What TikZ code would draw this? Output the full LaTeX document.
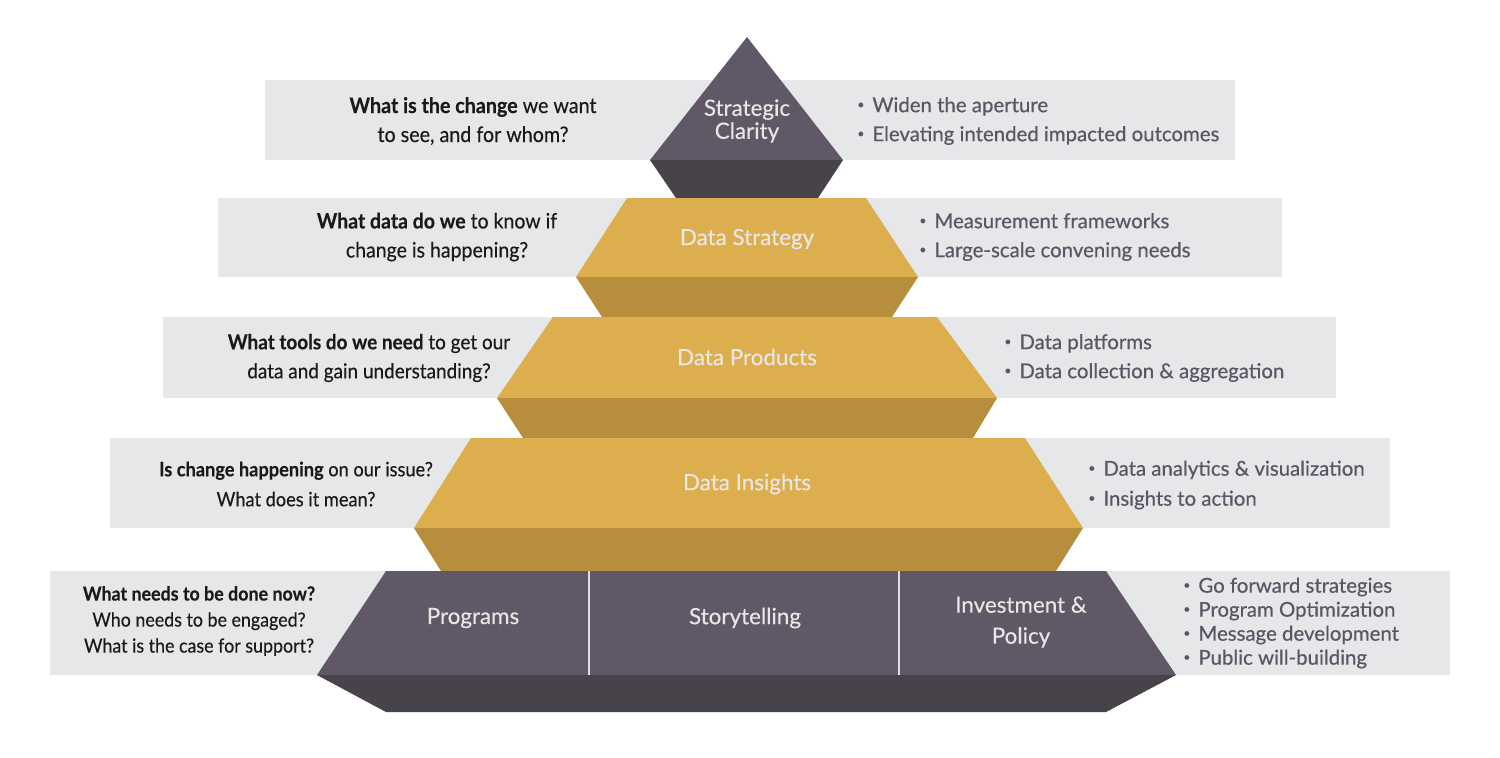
\documentclass[tikz,border=0pt]{standalone}
\usepackage{fontspec}
\setmainfont{Lato}
\newfontfamily\qfont{Lato}[FakeStretch=0.92, FakeBold=0.3]
\newfontfamily\medfont{Lato}[FakeBold=0.5]
\newfontfamily\labfont{Lato}[FakeBold=0.2]
\definecolor{boxgray}{HTML}{E6E7E8}
\definecolor{purpfront}{HTML}{605866}
\definecolor{purpdark}{HTML}{48424A}
\definecolor{goldfront}{HTML}{DDAE4E}
\definecolor{golddark}{HTML}{B78E3E}
\definecolor{bultext}{HTML}{5D5566}
\definecolor{labtext}{HTML}{E9E7E6}
\definecolor{qtext}{HTML}{1A1A1A}
\newcommand{\bl}{\makebox[7.5pt][l]{\raisebox{0.35ex}{\fontsize{6}{6}\selectfont\textbullet}}}
\begin{document}
\begin{tikzpicture}[x=0.5pt,y=-0.5pt,
  question/.style={inner sep=0pt, align=center, text=qtext},
  bullets/.style={inner sep=0pt, align=left, anchor=west, text=bultext},
  level/.style={inner sep=0pt, align=center, text=labtext, font=\labfont\fontsize{11.2}{11.5}\selectfont},
  divider/.style={draw=white!80!purpfront, line width=0.6pt}]
\useasboundingbox (0,0) rectangle (1500,757);
\fill[white] (0,0) rectangle (1500,757);
% gray bands
\fill[boxgray] (265,80) rectangle (1235,160);
\fill[boxgray] (218,198) rectangle (1282,277);
\fill[boxgray] (163,317) rectangle (1336,398);
\fill[boxgray] (110,438) rectangle (1390,528);
\fill[boxgray] (50,571) rectangle (1450,675);
% Strategic Clarity
\fill[purpfront] (747,37) -- (843,160) -- (650,160) -- cycle;
\fill[purpdark] (650,160) -- (843,160) -- (818,198) -- (676,198) -- cycle;
% Data Strategy
\fill[goldfront] (627,198) -- (866,198) -- (918,277) -- (576,277) -- cycle;
\fill[golddark] (576,277) -- (918,277) -- (892,317) -- (602,317) -- cycle;
% Data Products
\fill[goldfront] (553,317) -- (937,317) -- (997,398) -- (497,398) -- cycle;
\fill[golddark] (497,398) -- (997,398) -- (973,438) -- (523,438) -- cycle;
% Data Insights
\fill[goldfront] (471,438) -- (1025,438) -- (1083,528) -- (414,528) -- cycle;
\fill[golddark] (414,528) -- (1083,528) -- (1056,571) -- (441,571) -- cycle;
% Base
\fill[purpfront] (386,571) -- (1106,571) -- (1176,675) -- (317,675) -- cycle;
\fill[purpdark] (317,675) -- (1176,675) -- (1106,712) -- (386,712) -- cycle;
\coordinate (d1t) at (589,571); \coordinate (d1b) at (589,675);
\coordinate (d2t) at (899,571); \coordinate (d2b) at (899,675);
\draw[divider] (d1t) -- (d1b);
\draw[divider] (d2t) -- (d2b);
% level labels
\node[level] (sc) at (747,121) {Strategic\\Clarity};
\node[level] (ds) at (747,239) {Data Strategy};
\node[level] (dp) at (747,357) {Data Products};
\node[level] (di) at (747,484) {Data Insights};
\node[level] (pg) at (473,618) {Programs};
\node[level] (st) at (745,618) {Storytelling};
\node[level, font=\labfont\fontsize{11.2}{15.5}\selectfont] (ip) at (1021,622) {Investment \&\\Policy};
% questions
\node[question, font=\qfont\fontsize{10.7}{14.5}\selectfont] (q1) at (473,121) {\textbf{What is the change} we want\\to see, and for whom?};
\node[question, font=\qfont\fontsize{10.6}{14.5}\selectfont] (q2) at (437,237) {\textbf{What data do we} to know if\\change is happening?};
\node[question, font=\qfont\fontsize{10.3}{14.5}\selectfont] (q3) at (369,358) {\textbf{What tools do we need} to get our\\data and gain understanding?};
\node[question, font=\qfont\fontsize{9.9}{15}\selectfont] (q4) at (296,484) {\textbf{Is change happening} on our issue?\\What does it mean?};
\node[question, font=\qfont\fontsize{9.7}{13}\selectfont] (q5) at (199,621) {\textbf{What needs to be done now?}\\Who needs to be engaged?\\What is the case for support?};
% bullets
\node[bullets, font=\medfont\fontsize{10.2}{14.5}\selectfont] (b1) at (857,121) {\bl Widen the aperture\\\bl Elevating intended impacted outcomes};
\node[bullets, font=\medfont\fontsize{10.2}{14.5}\selectfont] (b2) at (919,237) {\bl Measurement frameworks\\\bl Large-scale convening needs};
\node[bullets, font=\medfont\fontsize{10.2}{14.5}\selectfont] (b3) at (1004,358) {\bl Data platforms\\\bl Data collection \& aggregation};
\node[bullets, font=\medfont\fontsize{10.2}{15}\selectfont] (b4) at (1088,485) {\bl Data analytics \& visualization\\\bl Insights to action};
\node[bullets, font=\medfont\fontsize{10.2}{12}\selectfont] (b5) at (1183,623) {\bl Go forward strategies\\\bl Program Optimization\\\bl Message development\\\bl Public will-building};
\end{tikzpicture}
\end{document}
